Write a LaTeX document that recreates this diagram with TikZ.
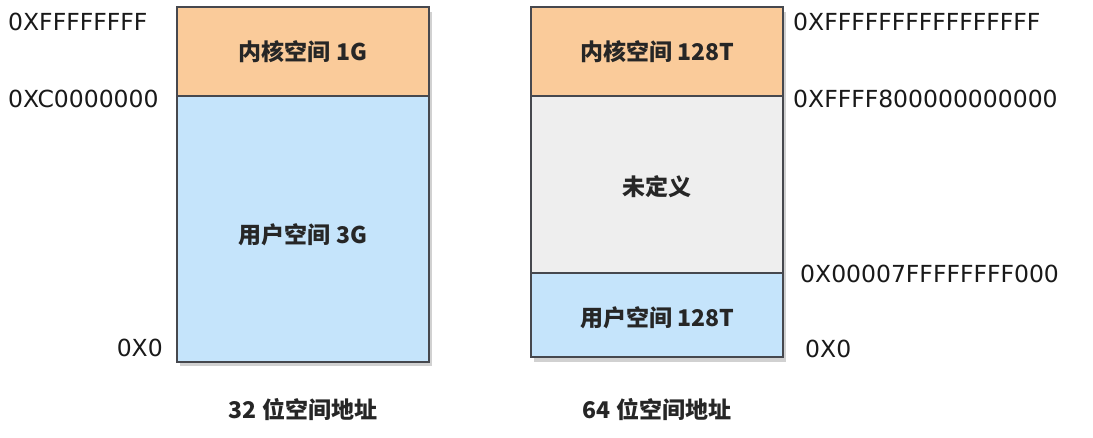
\documentclass[tikz,border=0pt]{standalone}
\usepackage{fontspec}
\setmainfont{Noto Sans CJK SC}
\newfontfamily\addrfont{DejaVu Sans}
\definecolor{kernelorange}{RGB}{250,203,154}
\definecolor{userblue}{RGB}{197,228,251}
\definecolor{undefgray}{RGB}{238,238,238}
\definecolor{edgegray}{RGB}{70,72,78}
\tikzset{
  area/.style={draw=edgegray, line width=1.4pt},
  shadowbox/.style={fill=black!18},
  inlabel/.style={font=\fontsize{23}{25}\selectfont\bfseries, text=black!85},
  addr/.style={font=\addrfont\fontsize{23.5}{25}\selectfont, text=black!90, inner sep=0pt},
  caption/.style={font=\fontsize{23}{25}\selectfont\bfseries, text=black!85}
}
\begin{document}
\begin{tikzpicture}[x=1pt,y=-1pt]
  \useasboundingbox (0,0) rectangle (1093,438);

  % 32 bit layout
  \fill[shadowbox] (180,12) rectangle (432,366);
  \fill[kernelorange] (177,7) rectangle (429,96);
  \fill[userblue] (177,96) rectangle (429,362);
  \draw[area] (177,7) rectangle (429,362);
  \draw[area] (177,96) -- (429,96);
  \node[inlabel] (k32) at (303,52) {内核空间 1G};
  \node[inlabel] (u32) at (303,235) {用户空间 3G};

  \node[addr, anchor=west] (top32) at (8,22) {0XFFFFFFFF};
  \node[addr, anchor=west] (mid32) at (8,99) {0XC0000000};
  \node[addr, anchor=east] (low32) at (163,348) {0X0};
  \node[caption] (cap32) at (303,410) {32 位空间地址};

  % 64 bit layout
  \fill[shadowbox] (534,12) rectangle (786,362);
  \fill[kernelorange] (531,7) rectangle (783,96);
  \fill[undefgray] (531,96) rectangle (783,273);
  \fill[userblue] (531,273) rectangle (783,357);
  \draw[area] (531,7) rectangle (783,357);
  \draw[area] (531,96) -- (783,96);
  \draw[area] (531,273) -- (783,273);
  \node[inlabel] (k64) at (657,52) {内核空间 128T};
  \node[inlabel] (undef) at (657,187) {未定义};
  \node[inlabel] (u64) at (657,318) {用户空间 128T};

  \node[addr, anchor=west] (top64) at (793,22) {0XFFFFFFFFFFFFFFFF};
  \node[addr, anchor=west] (mid64) at (793,99) {0XFFFF800000000000};
  \node[addr, anchor=west] (bnd64) at (800,274) {0X00007FFFFFFFF000};
  \node[addr, anchor=west] (low64) at (805,349) {0X0};
  \node[caption] (cap64) at (657,410) {64 位空间地址};
\end{tikzpicture}
\end{document}
